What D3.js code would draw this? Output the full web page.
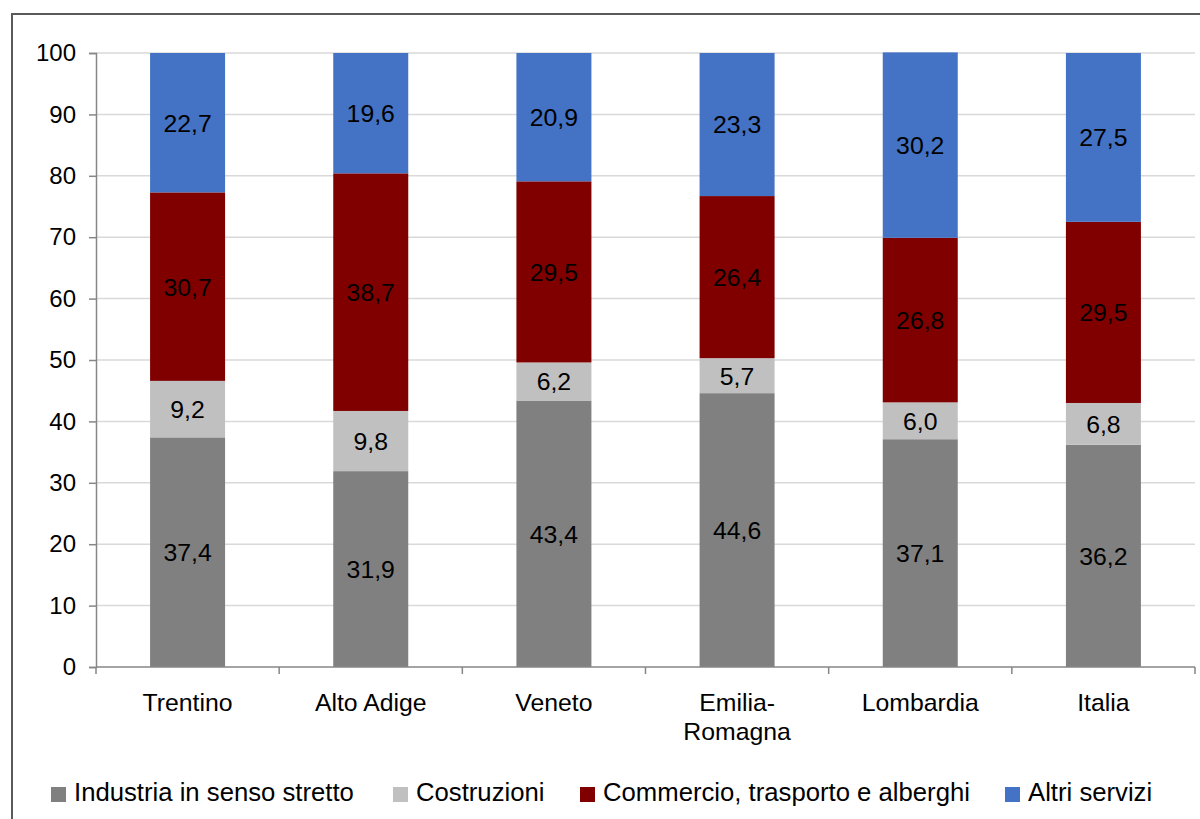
<!DOCTYPE html>
<html>
<head>
<meta charset="utf-8">
<script src="https://cdn.jsdelivr.net/npm/d3@7"></script>
<style>
  html, body { margin: 0; padding: 0; background: #fff; }
  svg { display: block; font-family: "Liberation Sans", Arial, sans-serif; }
</style>
</head>
<body>
<svg id="chart" width="1200" height="819"></svg>
<script>
// Regions (category axis); "Emilia-\nRomagna" wraps onto two lines
const categories = ["Trentino", "Alto Adige", "Veneto", "Emilia-\nRomagna", "Lombardia", "Italia"];

// Sector shares (%) per region, bottom to top of each stacked bar
const industria   = [37.4, 31.9, 43.4, 44.6, 37.1, 36.2];
const costruzioni = [9.2, 9.8, 6.2, 5.7, 6.0, 6.8];
const commercio   = [30.7, 38.7, 29.5, 26.4, 26.8, 29.5];
const altri       = [22.7, 19.6, 20.9, 23.3, 30.2, 27.5];

const seriesNames  = ["Industria in senso stretto", "Costruzioni", "Commercio, trasporto e alberghi", "Altri servizi"];
const seriesColors = ["#808080", "#c0c0c0", "#800000", "#4472c4"];
const yTicks = [0, 10, 20, 30, 40, 50, 60, 70, 80, 90, 100];

(function draw() {
  const svg = d3.select("#chart");
  const FS = 24.8;

  // outer chart frame (runs past the right and bottom edges)
  svg.append("rect")
    .attr("x", 12).attr("y", 14)
    .attr("width", 1210).attr("height", 830)
    .attr("fill", "none").attr("stroke", "#5a5a5a").attr("stroke-width", 2);

  const plotL = 96, plotR = 1195, plotT = 53, plotB = 667;

  const x = d3.scaleBand().domain(categories).range([plotL, plotR]).padding(0);
  const y = d3.scaleLinear().domain([0, 100]).range([plotB, plotT]);
  const barW = 75;

  // horizontal gridlines
  svg.append("g")
    .selectAll("line")
    .data(yTicks.filter(t => t > 0))
    .join("line")
    .attr("x1", plotL).attr("x2", plotR)
    .attr("y1", d => y(d)).attr("y2", d => y(d))
    .attr("stroke", "#d9d9d9").attr("stroke-width", 1.5);

  // stacked data
  const rows = categories.map((c, i) => ({
    cat: c, s0: industria[i], s1: costruzioni[i], s2: commercio[i], s3: altri[i]
  }));
  const keys = ["s0", "s1", "s2", "s3"];
  const stacked = d3.stack().keys(keys)(rows);

  const layers = svg.append("g")
    .selectAll("g")
    .data(stacked)
    .join("g")
    .attr("fill", (d, i) => seriesColors[i]);

  layers.selectAll("rect")
    .data(d => d)
    .join("rect")
    .attr("x", d => x(d.data.cat) + (x.bandwidth() - barW) / 2)
    .attr("width", barW)
    .attr("y", d => y(d[1]))
    .attr("height", d => y(d[0]) - y(d[1]));

  // value labels centred in each segment
  const fmt = v => d3.format(".1f")(v).replace(".", ",");
  svg.append("g")
    .selectAll("g")
    .data(stacked)
    .join("g")
    .selectAll("text")
    .data(d => d.map(s => ({ s, key: d.key })))
    .join("text")
    .attr("x", d => x(d.s.data.cat) + x.bandwidth() / 2)
    .attr("y", d => (y(d.s[0]) + y(d.s[1])) / 2)
    .attr("dy", "0.36em")
    .attr("text-anchor", "middle")
    .attr("font-size", FS)
    .attr("fill", "#000")
    .text(d => fmt(d.s.data[d.key]));

  // y axis
  const yAxis = svg.append("g")
    .attr("transform", `translate(${plotL},0)`)
    .call(d3.axisLeft(y).tickValues(yTicks).tickSize(7).tickPadding(13).tickFormat(d3.format("d")));
  yAxis.select(".domain").attr("stroke", "#868686").attr("stroke-width", 1.5);
  yAxis.selectAll(".tick line").attr("stroke", "#868686").attr("stroke-width", 1.5);
  yAxis.selectAll(".tick text")
    .attr("font-size", 24).attr("fill", "#000")
    .attr("font-family", "Liberation Sans, Arial, sans-serif");

  // x axis baseline and band-boundary ticks
  const xg = svg.append("g");
  xg.append("line")
    .attr("x1", plotL).attr("x2", plotR)
    .attr("y1", plotB).attr("y2", plotB)
    .attr("stroke", "#868686").attr("stroke-width", 1.5);
  const boundaries = categories.map(c => x(c)).concat([x(categories[categories.length - 1]) + x.bandwidth()]);
  xg.selectAll("line.tk")
    .data(boundaries)
    .join("line")
    .attr("class", "tk")
    .attr("x1", d => d).attr("x2", d => d)
    .attr("y1", plotB).attr("y2", plotB + 7)
    .attr("stroke", "#868686").attr("stroke-width", 1.5);

  // category labels
  const catText = xg.selectAll("text.cat")
    .data(categories)
    .join("text")
    .attr("class", "cat")
    .attr("x", d => x(d) + x.bandwidth() / 2)
    .attr("y", 711)
    .attr("text-anchor", "middle")
    .attr("font-size", FS)
    .attr("fill", "#000");
  catText.selectAll("tspan")
    .data(d => d.split("\n"))
    .join("tspan")
    .attr("x", function () { return d3.select(this.parentNode).attr("x"); })
    .attr("dy", (d, i) => i === 0 ? 0 : 29)
    .text(d => d);

  // legend
  const legendX = [51, 393, 580, 1005];
  const legend = svg.append("g")
    .selectAll("g")
    .data(seriesNames)
    .join("g")
    .attr("transform", (d, i) => `translate(${legendX[i]},787)`);
  legend.append("rect")
    .attr("width", 15).attr("height", 15)
    .attr("fill", (d, i) => seriesColors[i]);
  legend.append("text")
    .attr("x", 23).attr("y", 13.5)
    .attr("font-size", 25.7).attr("fill", "#000")
    .text(d => d);
})();
</script>
</body>
</html>
